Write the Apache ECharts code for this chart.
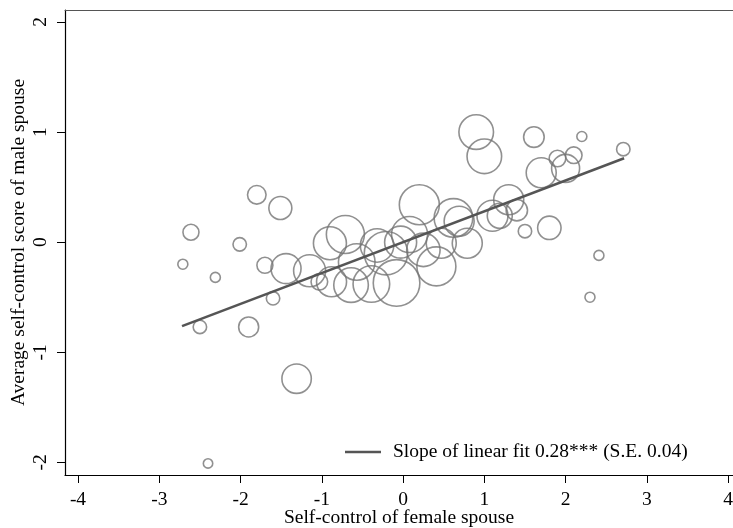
<!DOCTYPE html>
<html>
<head>
<meta charset="utf-8">
<script src="https://cdn.jsdelivr.net/npm/echarts@6/dist/echarts.min.js"></script>
<style>
    html, body { margin: 0; padding: 0; background: #fff; }
    #chart { width: 733px; height: 528px; }
</style>
</head>
<body>
<div id="chart"></div>
<script>
// bubbles: self-control of female spouse (x), average of male spouse (y), couples per bin (weight)
const femaleSC = [-2.71, -2.61, -2.50, -2.40, -2.31, -2.01, -1.90, -1.80, -1.70, -1.60,
    -1.51, -1.44, -1.31, -1.15, -1.03, -0.90, -0.88, -0.71, -0.64, -0.57,
    -0.39, -0.32, -0.21, -0.08, -0.03, 0.08, 0.20, 0.25, 0.41, 0.47,
    0.62, 0.69, 0.79, 0.90, 1.00, 1.10, 1.19, 1.30, 1.40, 1.50,
    1.61, 1.70, 1.80, 1.90, 2.00, 2.10, 2.20, 2.30, 2.41, 2.71];
const maleSC = [-0.20, 0.09, -0.77, -2.01, -0.32, -0.02, -0.77, 0.43, -0.21, -0.51,
    0.31, -0.24, -1.24, -0.26, -0.36, -0.01, -0.36, 0.07, -0.39, -0.18,
    -0.38, -0.03, -0.10, -0.37, 0.00, 0.07, 0.34, -0.07, -0.22, -0.01,
    0.22, 0.19, -0.01, 1.00, 0.78, 0.24, 0.24, 0.385, 0.29, 0.10,
    0.955, 0.63, 0.13, 0.76, 0.67, 0.79, 0.96, -0.50, -0.12, 0.845];
const couples = [25, 64, 45, 22, 25, 45, 100, 86, 64, 45,
    132, 225, 216, 256, 69, 272, 225, 361, 299, 335,
    335, 279, 471, 543, 256, 324, 400, 279, 380, 225,
    372, 225, 225, 299, 299, 240, 156, 225, 114, 45,
    106, 225, 137, 69, 196, 69, 25, 25, 25, 45];

// fitted line end points
const fitX = [-2.72, 2.72];
const fitY = [-0.762, 0.762];
const fitName = 'Slope of linear fit 0.28*** (S.E. 0.04)';

const xTicks = [-4, -3, -2, -1, 0, 1, 2, 3, 4];
const yTicks = [-2, -1, 0, 1, 2];

const bubbles = femaleSC.map((x, i) => [x, maleSC[i], couples[i]]);
const fitLine = fitX.map((x, i) => [x, fitY[i]]);

const font = 'Liberation Serif';
const fs = 19.5;
const chart = echarts.init(document.getElementById('chart'));

chart.setOption({
    animation: false,
    textStyle: { fontFamily: font },
    grid: { left: 65, right: 0, top: 10, bottom: 53, outerBoundsMode: 'none' },
    legend: {
        left: 345,
        top: 442,
        padding: 0,
        icon: 'rect',
        itemWidth: 36,
        itemHeight: 2.5,
        data: [fitName],
        textStyle: { fontFamily: font, fontSize: fs, color: '#000', padding: [0, 0, 0, 7] }
    },
    xAxis: [
        {
            type: 'value',
            min: -4.16,
            max: 4.06,
            name: 'Self-control of female spouse',
            nameLocation: 'middle',
            nameGap: 33,
            nameMoveOverlap: false,
            nameTextStyle: { fontFamily: font, fontSize: fs, color: '#000' },
            axisLine: { show: true, onZero: false, lineStyle: { color: '#000', width: 1.2 } },
            axisTick: { show: true, length: 8, customValues: xTicks, lineStyle: { color: '#000' } },
            axisLabel: { customValues: xTicks, margin: 15, fontFamily: font, fontSize: fs, color: '#000' },
            splitLine: { show: false }
        },
        {
            type: 'value',
            position: 'top',
            min: -4.16,
            max: 4.06,
            axisLine: { show: true, onZero: false, lineStyle: { color: '#555', width: 1 } },
            axisTick: { show: false },
            axisLabel: { show: false },
            splitLine: { show: false }
        }
    ],
    yAxis: {
        type: 'value',
        min: -2.115,
        max: 2.109,
        name: 'Average self-control score of male spouse',
        nameLocation: 'middle',
        nameGap: 36,
        nameMoveOverlap: false,
        nameTextStyle: { fontFamily: font, fontSize: fs, color: '#000' },
        axisLine: { show: true, onZero: false, lineStyle: { color: '#000', width: 1.2 } },
        axisTick: { show: true, length: 8, customValues: yTicks, lineStyle: { color: '#000' } },
        axisLabel: { customValues: yTicks, rotate: 90, margin: 14, fontFamily: font, fontSize: fs, color: '#000' },
        splitLine: { show: false }
    },
    series: [
        {
            type: 'scatter',
            data: bubbles,
            symbol: 'circle',
            symbolSize: v => 2 * Math.sqrt(v[2]),
            itemStyle: { color: 'rgba(0,0,0,0)', borderColor: '#747474', borderWidth: 1.6 },
            silent: true
        },
        {
            name: fitName,
            type: 'line',
            data: fitLine,
            symbol: 'none',
            color: '#555',
            lineStyle: { color: '#555', width: 2.5 },
            silent: true
        }
    ]
});
</script>
</body>
</html>
